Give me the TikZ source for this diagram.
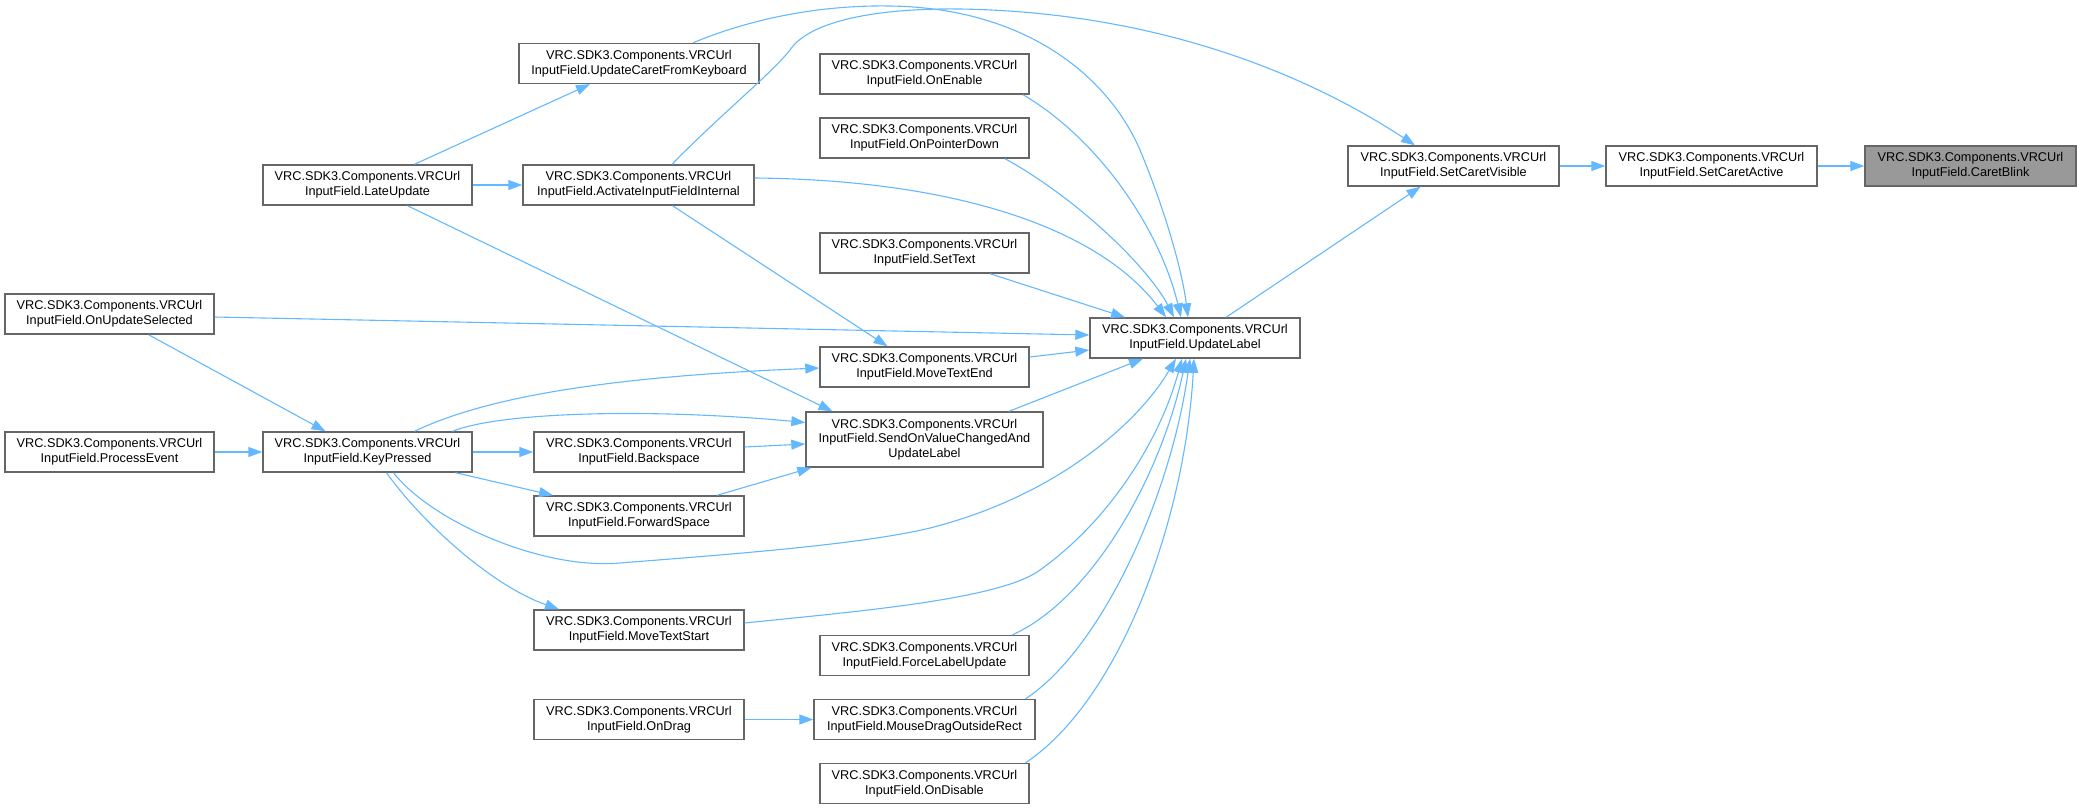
\documentclass[tikz,border=0pt]{standalone}
\usepackage{fontspec}
\setmainfont{Liberation Sans}
\usetikzlibrary{arrows.meta,calc}
\definecolor{edgeblue}{HTML}{63B8FF}
\definecolor{boxgray}{HTML}{666666}
\definecolor{fillgray}{HTML}{999999}
\begin{document}
\begin{tikzpicture}[x=1pt,y=-1pt,
  fn/.style={draw=boxgray, line width=1.4pt, fill=white, align=center, inner sep=0pt,
    minimum height=40pt, minimum width=209pt, text=black, font=\fontsize{12.7}{14.6}\selectfont},
  conn/.style={draw=edgeblue, line width=1.1pt, -{Triangle[length=14pt,width=10pt]}}]
\useasboundingbox (0,0) rectangle (2077,809);
% nodes
\node[fn, minimum width=211pt, fill=fillgray] (cb) at (1970.5,166) {VRC.SDK3.Components.VRCUrl\\InputField.CaretBlink};
\node[fn, minimum width=211pt] (sca) at (1711.5,166) {VRC.SDK3.Components.VRCUrl\\InputField.SetCaretActive};
\node[fn, minimum width=211pt] (scv) at (1453.5,166) {VRC.SDK3.Components.VRCUrl\\InputField.SetCaretVisible};
\node[fn, minimum width=210pt] (ul) at (1195,338) {VRC.SDK3.Components.VRCUrl\\InputField.UpdateLabel};
\node[fn] (oe) at (924.5,74) {VRC.SDK3.Components.VRCUrl\\InputField.OnEnable};
\node[fn] (opd) at (924.5,138) {VRC.SDK3.Components.VRCUrl\\InputField.OnPointerDown};
\node[fn] (st) at (924.5,253) {VRC.SDK3.Components.VRCUrl\\InputField.SetText};
\node[fn] (mte) at (924.5,367) {VRC.SDK3.Components.VRCUrl\\InputField.MoveTextEnd};
\node[fn, minimum width=237pt, minimum height=55pt] (sov) at (924.5,439.5) {VRC.SDK3.Components.VRCUrl\\InputField.SendOnValueChangedAnd\\UpdateLabel};
\node[fn] (flu) at (924.5,655.5) {VRC.SDK3.Components.VRCUrl\\InputField.ForceLabelUpdate};
\node[fn, minimum width=221pt] (mdo) at (924.5,719.5) {VRC.SDK3.Components.VRCUrl\\InputField.MouseDragOutsideRect};
\node[fn] (od) at (924.5,783.5) {VRC.SDK3.Components.VRCUrl\\InputField.OnDisable};
\node[fn, minimum width=240pt] (ucfk) at (639,63.5) {VRC.SDK3.Components.VRCUrl\\InputField.UpdateCaretFromKeyboard};
\node[fn, minimum width=231pt] (aifi) at (638.5,185) {VRC.SDK3.Components.VRCUrl\\InputField.ActivateInputFieldInternal};
\node[fn, minimum width=210pt] (bs) at (639,452) {VRC.SDK3.Components.VRCUrl\\InputField.Backspace};
\node[fn, minimum width=210pt] (fs) at (639,516) {VRC.SDK3.Components.VRCUrl\\InputField.ForwardSpace};
\node[fn, minimum width=210pt] (mts) at (639,630) {VRC.SDK3.Components.VRCUrl\\InputField.MoveTextStart};
\node[fn, minimum width=210pt] (odr) at (639,719.5) {VRC.SDK3.Components.VRCUrl\\InputField.OnDrag};
\node[fn] (lu) at (367.5,185) {VRC.SDK3.Components.VRCUrl\\InputField.LateUpdate};
\node[fn] (kp) at (367.5,452) {VRC.SDK3.Components.VRCUrl\\InputField.KeyPressed};
\node[fn] (ous) at (109.5,314) {VRC.SDK3.Components.VRCUrl\\InputField.OnUpdateSelected};
\node[fn] (pe) at (109.5,452) {VRC.SDK3.Components.VRCUrl\\InputField.ProcessEvent};
% edges
\draw[conn] (sca.east) -- (cb.west);
\draw[conn] (scv.east) -- (sca.west);
\draw[conn] ($(ul.north)+(31,0)$) -- ($(scv.south)+(-33,0)$);
\draw[conn] ($(aifi.north)+(33.5,0)$) .. controls (720,115) and (770,75) .. (790,50)
   .. controls (810,20) and (880,8) .. (960,9)
   .. controls (1150,12) and (1300,70) .. ($(scv.north)+(-38.5,0)$);
\draw[conn] ($(ucfk.north)+(54,0)$) .. controls (760,15) and (830,5) .. (890,6)
   .. controls (1030,8) and (1110,80) .. (1140,150)
   .. controls (1165,210) and (1182,270) .. ($(ul.north)+(-7,0)$);
\draw[conn] ($(oe.south)+(98.5,0)$) .. controls (1100,140) and (1160,230) .. ($(ul.north)+(-14,0)$);
\draw[conn] ($(opd.south)+(80.5,0)$) .. controls (1080,200) and (1150,270) .. ($(ul.north)+(-21,0)$);
\draw[conn] ($(aifi.east)+(0,-7)$) .. controls (960,180) and (1100,230) .. ($(ul.north)+(-29,0)$);
\draw[conn] ($(st.south)+(65.5,0)$) -- ($(ul.north)+(-70,0)$);
\draw[conn] ($(ous.east)+(0,3)$) -- ($(ul.west)+(0,-3)$);
\draw[conn] ($(mte.east)+(0,-10)$) -- ($(ul.west)+(0,12)$);
\draw[conn] ($(sov.north)+(84.5,0)$) -- ($(ul.south)+(-52,0)$);
\draw[conn] ($(kp.south)+(26,0)$) .. controls (430,520) and (540,570) .. (620,563)
   .. controls (720,555) and (860,545) .. (930,528)
   .. controls (1060,495) and (1140,420) .. ($(ul.south)+(-19,0)$);
\draw[conn] ($(mts.east)+(0,-7)$) .. controls (850,612) and (1000,600) .. (1040,570)
   .. controls (1110,520) and (1160,440) .. ($(ul.south)+(-13,0)$);
\draw[conn] ($(flu.north)+(88,0)$) .. controls (1090,600) and (1160,480) .. ($(ul.south)+(-9,0)$);
\draw[conn] ($(mdo.north)+(101,0)$) .. controls (1100,650) and (1170,500) .. ($(ul.south)+(-5,0)$);
\draw[conn] ($(od.north)+(101,0)$) .. controls (1120,700) and (1185,520) .. ($(ul.south)+(-1,0)$);
\draw[conn] ($(lu.north)+(47,0)$) -- ($(ucfk.south)+(-49,0)$);
\draw[conn] (lu.east) -- (aifi.west);
\draw[conn] ($(lu.south)+(40,0)$) -- ($(sov.north)+(-92,0)$);
\draw[conn] ($(aifi.south)+(34,0)$) -- ($(mte.north)+(-37,0)$);
\draw[conn] ($(ous.south)+(39,0)$) -- ($(kp.north)+(-42,0)$);
\draw[conn] (pe.east) -- (kp.west);
\draw[conn] (kp.east) -- (bs.west);
\draw[conn] ($(kp.south)+(88,0)$) -- ($(fs.north)+(-86,0)$);
\draw[conn] ($(kp.south)+(19,0)$) .. controls (420,520) and (490,585) .. ($(mts.north)+(-80,0)$);
\draw[conn] ($(kp.north)+(47,0)$) .. controls (500,390) and (650,375) .. ($(mte.west)+(0,1)$);
\draw[conn] ($(kp.north)+(85,0)$) .. controls (500,412) and (650,408) .. ($(sov.west)+(0,-17)$);
\draw[conn] ($(bs.east)+(0,-5)$) -- ($(sov.west)+(0,4.5)$);
\draw[conn] ($(fs.north)+(78,0)$) -- ($(sov.south west)+(6,0)$);
\draw[conn] (odr.east) -- (mdo.west);
\end{tikzpicture}
\end{document}
